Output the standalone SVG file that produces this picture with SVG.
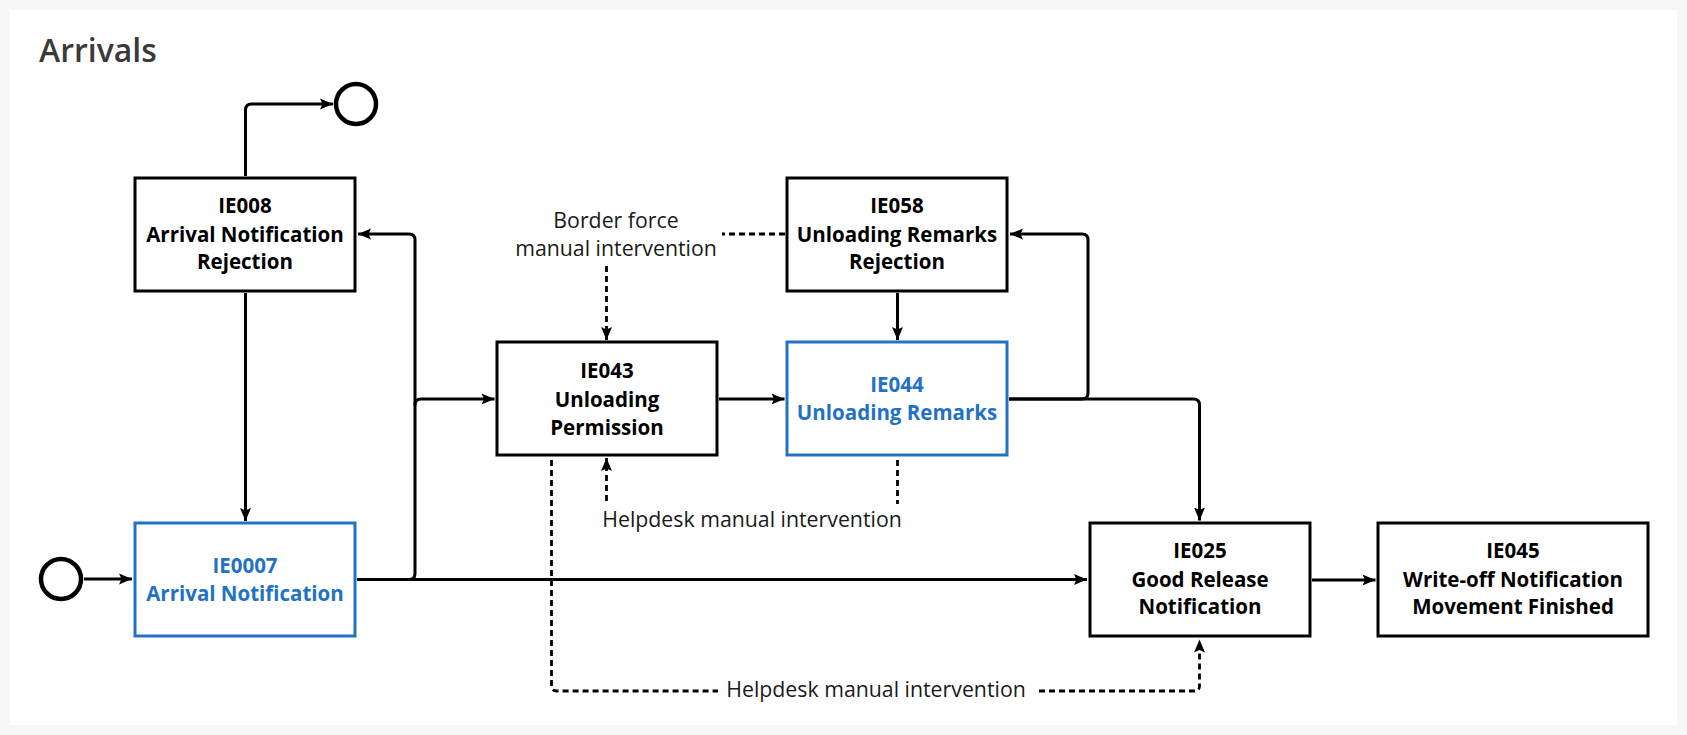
<svg xmlns="http://www.w3.org/2000/svg" width="1687" height="735" viewBox="0 0 1687 735">
<style>
.box{fill:#fff;stroke:#000;stroke-width:3}
.blue{stroke:#2272c3}
.t{font-family:"Open Sans","Liberation Sans",sans-serif;font-weight:700;font-size:20.5px;text-anchor:middle;fill:#000}
.tb{fill:#2272c3}
.lbl{font-family:"Open Sans","Liberation Sans",sans-serif;font-weight:400;font-size:21.3px;text-anchor:middle;fill:#1a1a1a}
.ln{fill:none;stroke:#000;stroke-width:3}
.ds{fill:none;stroke:#000;stroke-width:2.8;stroke-dasharray:6 4}
.ev{fill:#fff;stroke:#000;stroke-width:4.5}
</style>
<defs>
<marker id="ah" markerUnits="userSpaceOnUse" markerWidth="14" markerHeight="12" refX="13" refY="6" orient="auto">
<path d="M0,0.5 L13,6 L0,11.5 L2.5,6 z" fill="#000"/>
</marker>
</defs>
<rect x="0" y="0" width="1687" height="735" fill="#f7f7f7"/>
<rect x="10" y="10" width="1667" height="715" fill="#fff"/>
<text x="39" y="62" font-family="'Open Sans','Liberation Sans',sans-serif" font-weight="600" font-size="32" fill="#3a3a3a">Arrivals</text>

<g id="connectors">
<path class="ln" d="M245.5,176 V110 Q245.5,104 251.5,104 H333" marker-end="url(#ah)"/>
<path class="ln" d="M245.5,293 V521" marker-end="url(#ah)"/>
<path class="ln" d="M84,579 H132" marker-end="url(#ah)"/>
<path class="ln" d="M357,579.5 H1087" marker-end="url(#ah)"/>
<path class="ln" d="M357,579.5 H409 Q415,579.5 415,573.5 V240 Q415,234 409,234 H358" marker-end="url(#ah)"/>
<path class="ln" d="M415,405 Q415,399 421,399 H494.5" marker-end="url(#ah)"/>
<path class="ln" d="M719,399 H784.5" marker-end="url(#ah)"/>
<path class="ln" d="M1009,399 H1082 Q1088,399 1088,393 V240 Q1088,234 1082,234 H1010" marker-end="url(#ah)"/>
<path class="ln" d="M1009,399 H1193.5 Q1199.5,399 1199.5,405 V520.5" marker-end="url(#ah)"/>
<path class="ln" d="M1312,580 H1375.5" marker-end="url(#ah)"/>
<path class="ln" d="M897.5,293 V340" marker-end="url(#ah)"/>
<path class="ds" d="M785,234 H722"/>
<path class="ds" d="M606.5,266 V340" marker-end="url(#ah)"/>
<path class="ds" d="M897.5,460 V504"/>
<path class="ds" d="M606.5,501 V458" marker-end="url(#ah)"/>
<path class="ds" d="M551.5,460 V686 Q551.5,691 556.5,691 H718"/>
<path class="ds" d="M1039,691 H1194.5 Q1199.5,691 1199.5,686 V639.5" marker-end="url(#ah)"/>
</g>

<g id="start"><circle class="ev" cx="61" cy="579" r="20"/></g>
<g id="end"><circle class="ev" cx="356" cy="104" r="20"/></g>

<g id="IE008">
<rect class="box" x="135" y="178" width="220" height="113"/>
<text class="t" x="245" y="213">IE008</text>
<text class="t" x="245" y="241.5">Arrival Notification</text>
<text class="t" x="245" y="269">Rejection</text>
</g>
<g id="IE0007">
<rect class="box blue" x="135" y="523" width="220" height="113"/>
<text class="t tb" x="245" y="572.5">IE0007</text>
<text class="t tb" x="245" y="601">Arrival Notification</text>
</g>
<g id="IE043">
<rect class="box" x="497" y="342" width="220" height="113"/>
<text class="t" x="607" y="378">IE043</text>
<text class="t" x="607" y="407">Unloading</text>
<text class="t" x="607" y="435">Permission</text>
</g>
<g id="IE058">
<rect class="box" x="787" y="178" width="220" height="113"/>
<text class="t" x="897" y="213">IE058</text>
<text class="t" x="897" y="241.5">Unloading Remarks</text>
<text class="t" x="897" y="269">Rejection</text>
</g>
<g id="IE044">
<rect class="box blue" x="787" y="342" width="220" height="113"/>
<text class="t tb" x="897" y="392">IE044</text>
<text class="t tb" x="897" y="420">Unloading Remarks</text>
</g>
<g id="IE025">
<rect class="box" x="1090" y="523" width="220" height="113"/>
<text class="t" x="1200" y="558">IE025</text>
<text class="t" x="1200" y="586.5">Good Release</text>
<text class="t" x="1200" y="614">Notification</text>
</g>
<g id="IE045">
<rect class="box" x="1378" y="523" width="270" height="113"/>
<text class="t" x="1513" y="558">IE045</text>
<text class="t" x="1513" y="586.5">Write-off Notification</text>
<text class="t" x="1513" y="614">Movement Finished</text>
</g>

<g id="labels">
<text class="lbl" x="616" y="228">Border force</text>
<text class="lbl" x="616" y="256">manual intervention</text>
<text class="lbl" x="752" y="527">Helpdesk manual intervention</text>
<text class="lbl" x="876" y="697">Helpdesk manual intervention</text>
</g>
</svg>
